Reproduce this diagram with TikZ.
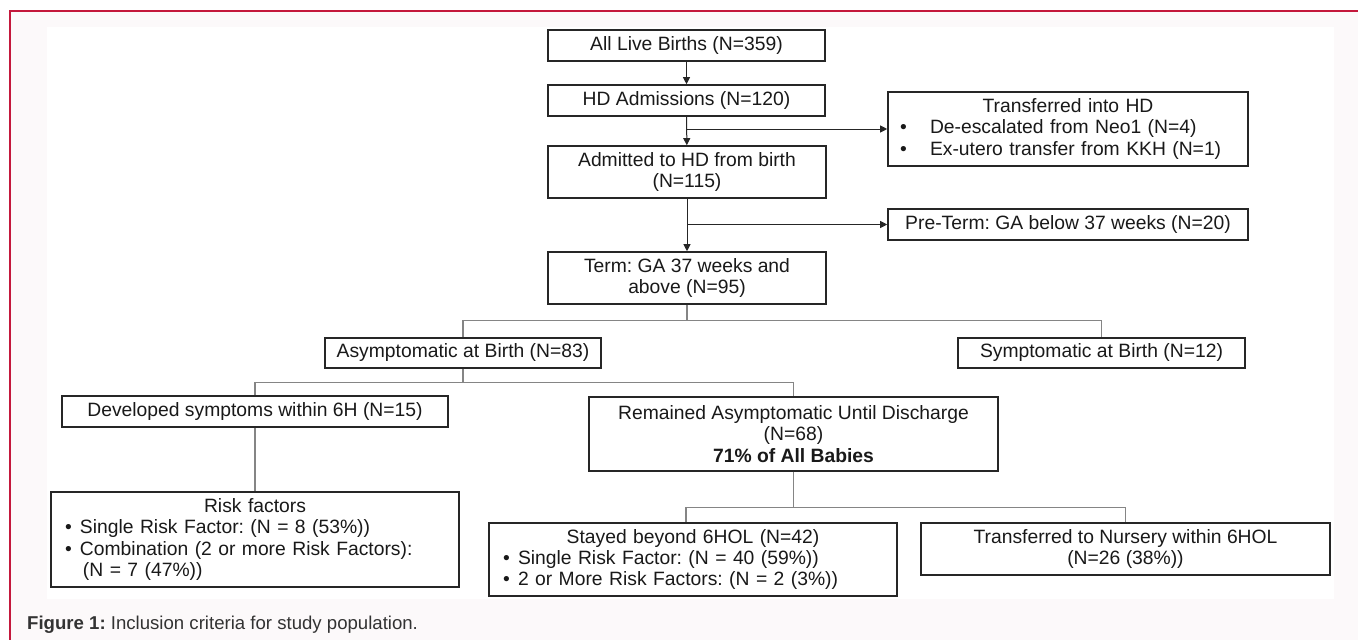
\documentclass[tikz,border=0pt]{standalone}
\usepackage{fontspec}
\setmainfont{Liberation Sans}
\usetikzlibrary{arrows.meta}
\definecolor{framered}{HTML}{C4183C}
\definecolor{pagebg}{HTML}{FCF9FA}
\definecolor{boxline}{HTML}{262626}
\definecolor{linkgray}{HTML}{858585}
\definecolor{captext}{HTML}{333333}
\frenchspacing
\newcommand{\boxfont}{\fontsize{19.3}{21.4}\selectfont}
% bullet line: indent, gap bullet->text, text
\newcommand{\bline}[3]{\hspace*{#1pt}\makebox[#2pt][l]{•}#3}
\newcommand{\btitle}[1]{\makebox[\linewidth][c]{#1}}

\begin{document}
\begin{tikzpicture}[
  x=1pt, y=-1pt,
  box/.style={draw=boxline, line width=1.6pt, fill=white, inner sep=0pt, align=center, font=\boxfont, text=black!90},
  listbox/.style={box, align=left},
  arr/.style={-{Triangle[width=7pt,length=7pt]}, line width=1pt, draw=black!85},
  link/.style={line width=1.2pt, draw=linkgray}
]
\path[fill=white, use as bounding box] (0,0) rectangle (1358,640);
\fill[pagebg] (10,11) rectangle (1358,640);
\fill[white] (47,27) rectangle (1334,599);
\draw[framered, line width=1.6pt] (10,640) -- (10,11) -- (1358,11);

\node[box, minimum width=277pt, minimum height=31pt] (births) at (686.5,45.5) {All Live Births (N=359)};
\node[box, minimum width=277pt, minimum height=31pt] (hdadm) at (686.5,100.5) {HD Admissions (N=120)};
\node[box, minimum width=278pt, minimum height=52pt] (admit) at (687,172) {Admitted to HD from birth\\(N=115)};
\node[box, minimum width=278pt, minimum height=52pt] (term) at (687,278) {Term: GA 37 weeks and\\above (N=95)};
\node[listbox, text width=360pt, minimum height=74pt] (transin) at (1068,129)
  {\btitle{Transferred into HD}\\
   \bline{12}{30}{De-escalated from Neo1 (N=4)}\\
   \bline{12}{30}{Ex-utero transfer from KKH (N=1)}};
\node[box, minimum width=360pt, minimum height=31pt] (preterm) at (1068,224.5) {Pre-Term: GA below 37 weeks (N=20)};
\node[box, minimum width=276pt, minimum height=30pt] (asym) at (463,353) {Asymptomatic at Birth (N=83)};
\node[box, minimum width=287pt, minimum height=30pt] (symp) at (1101.5,353) {Symptomatic at Birth (N=12)};
\node[box, minimum width=386pt, minimum height=31pt] (devsym) at (255,411.5) {Developed symptoms within 6H (N=15)};
\node[box, minimum width=409pt, minimum height=74pt] (remain) at (793.5,434) {Remained Asymptomatic Until Discharge\\(N=68)\\\textbf{71\% of All Babies}};
\node[listbox, text width=408pt, minimum height=95pt] (risk) at (255,539.5)
  {\btitle{Risk factors}\\
   \bline{14}{15}{Single Risk Factor: (N = 8 (53\%))}\\
   \bline{14}{15}{Combination (2 or more Risk Factors):}\\
   \hspace*{32pt}(N = 7 (47\%))};
\node[listbox, text width=408pt, minimum height=73pt] (stayed) at (693,559.5)
  {\btitle{Stayed beyond 6HOL (N=42)}\\
   \bline{14}{15}{Single Risk Factor: (N = 40 (59\%))}\\
   \bline{14}{15}{2 or More Risk Factors: (N = 2 (3\%))}};
\node[box, minimum width=409pt, minimum height=52pt] (nursery) at (1125.5,549) {Transferred to Nursery within 6HOL\\(N=26 (38\%))};

\node[anchor=west, inner sep=0pt, text=captext, font=\fontsize{18.6}{20}\selectfont] (caption) at (27,625)
  {\textbf{Figure 1:} Inclusion criteria for study population.};

% upper chain with exclusions
\draw[arr] (births) -- (hdadm);
\draw[arr] (hdadm) -- (admit);
\draw[arr] (hdadm.south |- transin.west) -- (transin.west);
\draw[arr] (admit) -- (term);
\draw[arr] (admit.south |- preterm.west) -- (preterm.west);
% lower tree
\draw[link] (term.south) -- ++(0,16) -| (asym.north);
\draw[link] (term.south) -- ++(0,16) -| (symp.north);
\draw[link] (asym.south) -- ++(0,14) -| (devsym.north);
\draw[link] (asym.south) -- ++(0,14) -| (remain.north);
\draw[link] (devsym) -- (risk);
\draw[link] (remain.south) -- ++(0,36) -| ([xshift=-7pt]stayed.north);
\draw[link] (remain.south) -- ++(0,36) -| (nursery.north);
\end{tikzpicture}
\end{document}
